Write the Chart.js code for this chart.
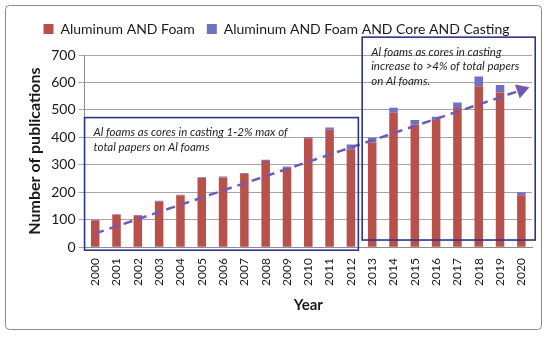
<!DOCTYPE html>
<html>
<head>
<meta charset="utf-8">
<script src="https://cdn.jsdelivr.net/npm/chart.js@4.4.1/dist/chart.umd.min.js"></script>
<style>
  body { margin: 0; background: #fff; }
  #wrap { width: 550px; height: 337px; }
</style>
</head>
<body>
<div id="wrap"><canvas id="pubChart" width="550" height="337"></canvas></div>
<script>
// values
var years = ['2000','2001','2002','2003','2004','2005','2006','2007','2008','2009','2010',
             '2011','2012','2013','2014','2015','2016','2017','2018','2019','2020'];
var aluminumFoam = [98, 118, 114, 166, 188, 252, 254, 267, 314, 289, 397,
                    428, 357, 381, 490, 447, 463, 507, 586, 563, 189];
var coreCasting = [2, 2, 3, 3, 3, 3, 3, 3, 4, 5, 4,
                   8, 17, 18, 18, 16, 12, 20, 36, 28, 11];
var trendLine = [50, null, null, null, null, null, null, null, null, null, null,
                 null, null, null, null, null, null, null, null, null, 572];
var yTicks = [0, 100, 200, 300, 400, 500, 600, 700];

var fontName = 'Lato, "Open Sans", sans-serif';

// text boxes drawn over the plot (positions in axis units)
var notes = [
  { x0: -0.5, x1: 12.35, y0: -11, y1: 472,
    lines: ['Al foams as cores in casting 1-2% max of', 'total papers on Al foams'] },
  { x0: 12.53, x1: 20.65, y0: 26, y1: 765,
    lines: ['Al foams as cores in casting', 'increase to >4% of total papers', 'on Al foams.'] }
];

var framePlugin = {
  id: 'frame',
  beforeInit: function(chart) {
    // extra gap under the legend
    var fit = chart.legend.fit;
    chart.legend.fit = function() {
      fit.bind(chart.legend)();
      this.height += 9;
    };
  },
  beforeDraw: function(chart) {
    var c = chart.ctx;
    c.save();
    c.fillStyle = '#fff';
    c.fillRect(0, 0, chart.width, chart.height);
    c.strokeStyle = '#8c8c8c';
    c.lineWidth = 1;
    c.beginPath();
    c.roundRect(5.5, 5.5, 536, 324, 4);
    c.stroke();
    c.restore();
  }
};

var notesPlugin = {
  id: 'notes',
  afterDatasetsDraw: function(chart) {
    var c = chart.ctx, xs = chart.scales.x, ys = chart.scales.y;
    c.save();
    notes.forEach(function(n) {
      var l = xs.getPixelForValue(n.x0), r = xs.getPixelForValue(n.x1);
      var t = ys.getPixelForValue(n.y1), b = ys.getPixelForValue(n.y0);
      c.strokeStyle = '#2e3585';
      c.lineWidth = 1.6;
      c.strokeRect(l, t, r - l, b - t);
      c.fillStyle = '#1f1f1f';
      c.font = 'italic 11.5px ' + fontName;
      c.textBaseline = 'top';
      n.lines.forEach(function(s, i) {
        c.fillText(s, l + 9, t + 9 + i * 14.5);
      });
    });
    c.restore();
  }
};

new Chart(document.getElementById('pubChart'), {
  type: 'bar',
  data: {
    labels: years,
    datasets: [{
      label: 'Aluminum AND Foam',
      data: aluminumFoam,
      backgroundColor: '#b8514b',
      barPercentage: 0.4,
      categoryPercentage: 1,
      order: 2
    }, {
      label: 'Aluminum AND Foam AND Core AND Casting',
      data: coreCasting,
      backgroundColor: '#7070c4',
      barPercentage: 0.4,
      categoryPercentage: 1,
      order: 2
    }, {
      type: 'line',
      label: 'trend',
      data: trendLine,
      spanGaps: true,
      borderColor: '#7458b4',
      backgroundColor: '#7458b4',
      borderWidth: 2.5,
      borderDash: [9, 6],
      pointStyle: 'triangle',
      pointRotation: 71,
      pointRadius: function(ctx) { return ctx.dataIndex === 20 ? 6 : 0; },
      order: 1
    }]
  },
  options: {
    responsive: false,
    animation: false,
    layout: { padding: { left: 21, right: 18, top: 10, bottom: 19 } },
    plugins: {
      tooltip: { enabled: false },
      legend: {
        position: 'top',
        labels: {
          filter: function(item) { return item.text !== 'trend'; },
          boxWidth: 10, boxHeight: 10, padding: 12,
          color: '#1a1a1a',
          font: { family: fontName, size: 14 }
        }
      }
    },
    scales: {
      x: {
        stacked: true,
        grid: { display: false },
        border: { color: '#8c8c8c' },
        ticks: { color: '#1a1a1a', maxRotation: 90, minRotation: 90, autoSkip: false,
                 font: { family: fontName, size: 12 } },
        title: { display: true, text: 'Year', color: '#1a1a1a', padding: { top: 7 },
                 font: { family: fontName, size: 15, weight: 'bold' } }
      },
      y: {
        stacked: true,
        min: 0, max: 700,
        afterBuildTicks: function(axis) { axis.ticks = yTicks.map(function(v) { return { value: v }; }); },
        grid: { color: '#a6a6a6', tickLength: 6 },
        border: { color: '#8c8c8c' },
        ticks: { color: '#1a1a1a', font: { family: fontName, size: 14 } },
        title: { display: true, text: 'Number of publications', color: '#1a1a1a',
                 font: { family: fontName, size: 16, weight: 'bold' } }
      }
    }
  },
  plugins: [framePlugin, notesPlugin]
});
</script>
</body>
</html>
